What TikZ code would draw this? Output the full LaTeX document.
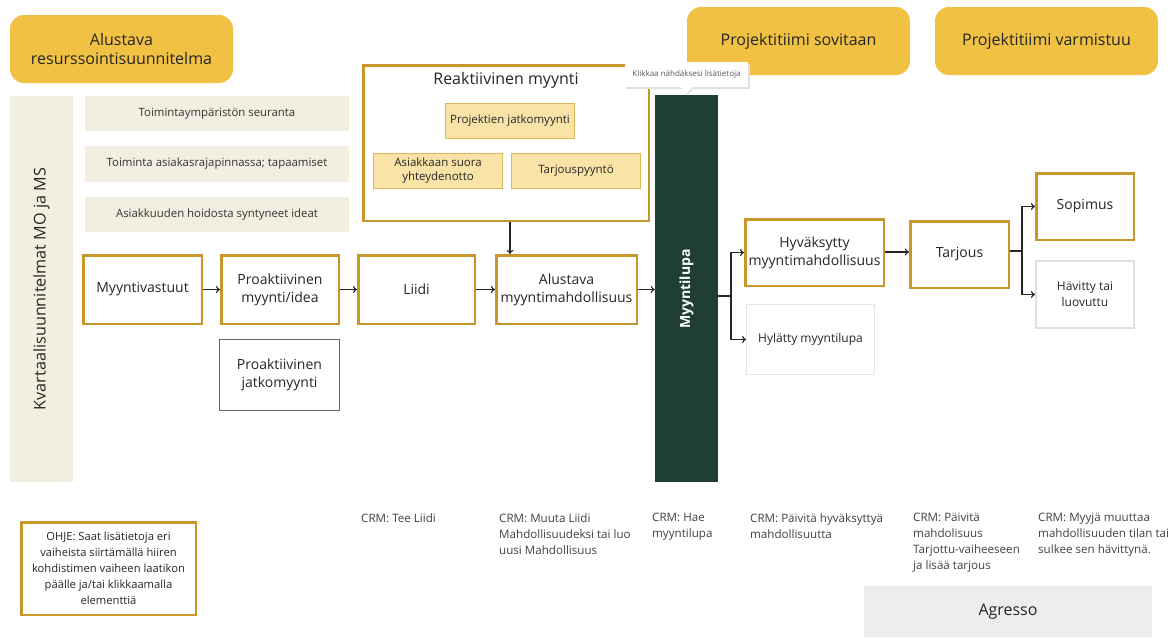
\documentclass[tikz,border=0pt]{standalone}
\usepackage{fontspec}
\setmainfont{Open Sans}
\usetikzlibrary{arrows.meta,shadows}
\definecolor{goldfill}{HTML}{F0C142}
\definecolor{beige}{HTML}{F2EEE0}
\definecolor{goldline}{HTML}{C8972B}
\definecolor{lightfill}{HTML}{F9E3A7}
\definecolor{lightline}{HTML}{DDB657}
\definecolor{darkgreen}{HTML}{1F3F34}
\definecolor{txtgray}{HTML}{404040}
\tikzset{
  x=1pt,y=-1pt,
  phase/.style={fill=goldfill, rounded corners=14pt, align=center, font=\fontsize{16}{19}\selectfont, text=black!85},
  beigebox/.style={fill=beige, align=center, font=\fontsize{11.4}{14}\selectfont, text=black!80},
  stepbox/.style={draw=goldline, line width=2.5pt, fill=white, align=center, font=\fontsize{14}{18}\selectfont, text=black!85},
  subbox/.style={draw=lightline, line width=1pt, fill=lightfill, align=center, font=\fontsize{11.5}{14}\selectfont, text=black!85},
  greybox/.style={draw=#1, fill=white, align=center, text=black!85},
  crm/.style={anchor=north west, align=left, font=\fontsize{11.6}{16}\selectfont, text=txtgray, inner sep=0pt},
  arr/.style={-{To[length=4pt,width=7pt]}, line width=1.1pt, black!85},
  ln/.style={line width=1.1pt, black!85},
}
\begin{document}
\begin{tikzpicture}
\useasboundingbox (0,0) rectangle (1172,637);
% phase headers
\node[phase, minimum width=223, minimum height=68] (res) at (121.5,49) {Alustava\\resurssointisuunnitelma};
\node[phase, minimum width=223, minimum height=68] (sov) at (798.5,41) {Projektitiimi sovitaan};
\node[phase, minimum width=223, minimum height=68] (var) at (1046.5,41) {Projektitiimi varmistuu};
% left bar
\node[fill=beige, minimum width=63, minimum height=386, inner sep=0pt] (kv) at (41.5,289) {};
\node[rotate=90, font=\fontsize{16.2}{19}\selectfont, text=black!85] (kvt) at (kv.center) {Kvartaalisuunnitelmat MO ja MS};
% beige boxes
\node[beigebox, minimum width=264, minimum height=35] (t1) at (217,113.5) {Toimintaympäristön seuranta};
\node[beigebox, minimum width=264, minimum height=36] (t2) at (217,164) {Toiminta asiakasrajapinnassa; tapaamiset};
\node[beigebox, minimum width=264, minimum height=35] (t3) at (217,214.5) {Asiakkuuden hoidosta syntyneet ideat};
% reactive sales
\node[draw=goldline, line width=2.5pt, fill=white, minimum width=285.5, minimum height=155.5] (reakt) at (506,143) {};
\node[font=\fontsize{16}{19}\selectfont, text=black!85] (reaktt) at (506,80) {Reaktiivinen myynti};
\node[subbox, minimum width=129, minimum height=35] (pj) at (510,121) {Projektien jatkomyynti};
\node[subbox, minimum width=129, minimum height=35] (asi) at (438,171) {Asiakkaan suora\\yhteydenotto};
\node[subbox, minimum width=129, minimum height=35] (tar) at (576,171) {Tarjouspyyntö};
% main row
\node[stepbox, minimum width=118.5, minimum height=68.5] (mv) at (142.5,289.5) {Myyntivastuut};
\node[stepbox, minimum width=117.5, minimum height=68.5] (pro) at (280,289.5) {Proaktiivinen\\myynti/idea};
\node[stepbox, minimum width=116.5, minimum height=68.5] (liidi) at (416.5,289.5) {Liidi};
\node[stepbox, minimum width=140.5, minimum height=68.5] (alu) at (566.5,289.5) {Alustava\\myyntimahdollisuus};
\node[greybox=black!60, line width=0.8pt, minimum width=120, minimum height=71, font=\fontsize{14}{18}\selectfont] (pjm) at (279.5,375) {Proaktiivinen\\jatkomyynti};
% Myyntilupa
\node[fill=darkgreen, minimum width=63, minimum height=387, inner sep=0pt] (mlupa) at (686.5,288.5) {};
\node[rotate=90, text=white, font=\bfseries\fontsize{14}{17}\selectfont] (mlupat) at (686.5,289) {Myyntilupa};
% tooltip
\fill[black!12] (626,64) rectangle (749.5,88.5);
\fill[black!12] (681,88) -- (687.5,95) -- (694,88) -- cycle;
\node[fill=white, minimum width=123, minimum height=25, inner sep=0pt, font=\fontsize{8}{10}\selectfont, text=black!65] (tip) at (686.5,74.5) {Klikkaa nähdäksesi lisätietoja};
\fill[white] (680,86.5) -- (686.5,93.5) -- (693,86.5) -- cycle;
% right part
\node[stepbox, minimum width=134.5, minimum height=66.5] (hyv) at (814.5,252.5) {Hyväksytty\\myyntimahdollisuus};
\node[greybox=black!10, line width=0.8pt, minimum width=128, minimum height=70, font=\fontsize{12}{15}\selectfont] (hyl) at (810.5,339.5) {Hylätty myyntilupa};
\node[stepbox, minimum width=98.5, minimum height=66.5] (tarj) at (959.5,254.5) {Tarjous};
\node[stepbox, minimum width=97.5, minimum height=66.5] (sop) at (1085,206.5) {Sopimus};
\node[greybox=black!12, line width=2pt, minimum width=98, minimum height=67, font=\fontsize{12}{16}\selectfont] (hav) at (1085,294.5) {Hävitty tai\\luovuttu};
% connectors
\draw[arr] (mv.east) -- (pro.west);
\draw[arr] (pro.east) -- (liidi.west);
\draw[arr] (liidi.east) -- (alu.west);
\draw[arr] (alu.east) -- (mlupa.west |- alu.east);
\draw[arr] (reakt.south -| pj.south) -- (pj.south |- alu.north);
\coordinate (j1) at (731,296);
\draw[ln] (mlupa.east |- j1) -- (j1);
\draw[arr] (j1) |- (hyv.west);
\draw[arr] (j1) |- (hyl.west);
\draw[arr] (hyv.east |- 0,252) -- (tarj.west |- 0,252);
\coordinate (j2) at (1022,251);
\draw[ln] (tarj.east |- j2) -- (j2);
\draw[arr] (j2) |- (sop.west);
\draw[arr] (j2) |- (hav.west);
% bottom
\node[draw=goldline, line width=2.5pt, fill=white, minimum width=174.5, minimum height=92.5, align=center, font=\fontsize{11.2}{16}\selectfont, text=black!85] (ohje) at (108.5,568.5) {OHJE: Saat lisätietoja eri\\vaiheista siirtämällä hiiren\\kohdistimen vaiheen laatikon\\päälle ja/tai klikkaamalla\\elementtiä};
\node[crm] (c1) at (361,513) {CRM: Tee Liidi};
\node[crm] (c2) at (499,513) {CRM: Muuta Liidi\\Mahdollisuudeksi tai luo\\uusi Mahdollisuus};
\node[crm] (c3) at (652,513) {CRM: Hae\\myyntilupa};
\node[crm] (c4) at (750,513) {CRM: Päivitä hyväksyttyä\\mahdollisuutta};
\node[crm] (c5) at (913,513) {CRM: Päivitä\\mahdolisuus\\Tarjottu-vaiheeseen\\ja lisää tarjous};
\node[crm] (c6) at (1038,513) {CRM: Myyjä muuttaa\\mahdollisuuden tilan tai\\sulkee sen hävittynä.};
\node[fill=black!7, minimum width=288, minimum height=51, font=\fontsize{16}{19}\selectfont, text=black!85] (agr) at (1008,611.5) {Agresso};
\end{tikzpicture}
\end{document}
